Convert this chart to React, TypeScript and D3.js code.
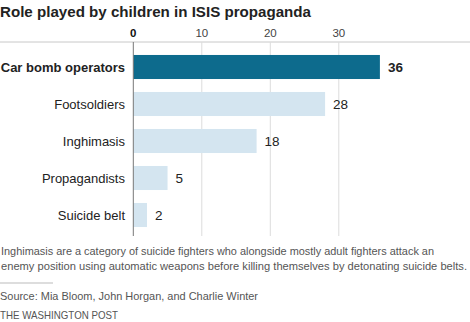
import React from "react";
import * as d3 from "d3";

const categories = ["Car bomb operators", "Footsoldiers", "Inghimasis", "Propagandists", "Suicide belt"];
const values = [36, 28, 18, 5, 2];
const highlighted = ["Car bomb operators"];
const ticks = [0, 10, 20, 30];
const title = "Role played by children in ISIS propaganda";
const noteLines = [
  "Inghimasis are a category of suicide fighters who alongside mostly adult fighters attack an",
  "enemy position using automatic weapons before killing themselves by detonating suicide belts.",
];
const source = "Source: Mia Bloom, John Horgan, and Charlie Winter";
const credit = "THE WASHINGTON POST";

export default function App() {
  const W = 470, H = 322;
  const x = d3.scaleLinear().domain([0, 10]).range([133.3, 201.8]);
  const y = d3.scaleBand().domain(categories).range([48.5, 233.5]).paddingInner(0.35).paddingOuter(0.175);
  const font = "'Liberation Sans', Arial, sans-serif";
  return (
    <svg width={W} height={H} style={{ position: "absolute", left: 0, top: 0, background: "#fff" }} fontFamily={font}>
      <text x={0} y={17} fontSize={15.5} fontWeight="bold" fill="#222" textLength={311} lengthAdjust="spacingAndGlyphs">{title}</text>
      <line x1={0} x2={W} y1={42} y2={42} stroke="#c8c8c8" strokeWidth={1} />
      {ticks.map((t) => (
        <g key={t}>
          <text x={x(t)} y={37} textAnchor="middle" fontSize={11.5} fill={t === 0 ? "#111" : "#444"} fontWeight={t === 0 ? "bold" : "normal"}>{t}</text>
          {t !== 0 && <line x1={x(t)} x2={x(t)} y1={42} y2={236} stroke="#dcdcdc" strokeWidth={1} />}
        </g>
      ))}
      {categories.map((c, i) => {
        const hi = highlighted.includes(c);
        const yy = y(c)!;
        return (
          <g key={c}>
            <rect x={x(0)} y={yy} width={x(values[i]) - x(0)} height={y.bandwidth()} fill={hi ? "#0d6b8d" : "#d4e5f0"} />
            <text x={125} y={yy + y.bandwidth() / 2} dy="0.35em" textAnchor="end" fontSize={13} fontWeight={hi ? "bold" : "normal"} fill="#222">{c}</text>
            <text x={x(values[i]) + 8} y={yy + y.bandwidth() / 2} dy="0.35em" fontSize={13.5} fontWeight={hi ? "bold" : "normal"} fill="#222">{values[i]}</text>
          </g>
        );
      })}
      <line x1={x(0)} x2={x(0)} y1={42} y2={236} stroke="#777" strokeWidth={1} />
      {noteLines.map((l, i) => (
        <text key={i} x={1} y={255 + i * 15} fontSize={11} fill="#555" textLength={i === 0 ? 433 : 466} lengthAdjust="spacingAndGlyphs">{l}</text>
      ))}
      <line x1={0} x2={53} y1={283} y2={283} stroke="#bbb" strokeWidth={1} />
      <text x={0} y={300} fontSize={11.5} fill="#555" textLength={258} lengthAdjust="spacingAndGlyphs">{source}</text>
      <text x={0} y={319} fontSize={11.5} fill="#555" textLength={118} lengthAdjust="spacingAndGlyphs">{credit}</text>
    </svg>
  );
}
